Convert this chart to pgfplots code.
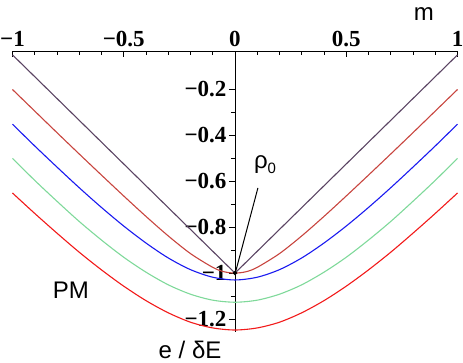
\documentclass[border=0pt]{standalone}
\usepackage{fontspec}
\setmainfont{Liberation Sans}
\newfontfamily\tickfont{Liberation Serif}
\usepackage{pgfplots}
\pgfplotsset{compat=1.18}
\definecolor{lineGrey}{HTML}{5B4463}
\definecolor{lineDRed}{HTML}{C8453F}
\definecolor{lineBlue}{HTML}{1A1AF0}
\definecolor{lineGreen}{HTML}{7FD99A}
\definecolor{lineRed}{HTML}{F21A1A}

\begin{document}
\begin{tikzpicture}
\begin{axis}[
  scale only axis, width=445pt, height=280.4pt,
  xmin=-1, xmax=1, ymin=-1.255, ymax=-0.033,
  axis x line*=top, axis y line*=center,
  axis line style={black,line width=0.9pt},
  xtick={-1,-0.5,0,0.5,1},
  xticklabels={−1,−0.5,0,0.5,1},
  ytick={-1.2,-1,-0.8,-0.6,-0.4,-0.2},
  yticklabels={−1.2,−1,−0.8,−0.6,−0.4,−0.2},
  minor x tick num=4, minor y tick num=1,
  xtick align=inside, ytick align=outside,
  major tick length=6pt, minor tick length=4pt,
  tick style={black,line width=0.7pt},
  ticklabel style={font=\tickfont\bfseries\fontsize{23}{25}\selectfont},
  xticklabel style={yshift=1pt},
  yticklabel style={xshift=1pt},
  clip=false,
  every axis plot/.append style={line width=1.1pt},
]
% grey V
\addplot[lineGrey] coordinates {(-1,-0.049) (0,-1) (1,-0.049)};
% dark red
\addplot[lineDRed,smooth] coordinates {
  (-1,-0.200) (-0.9,-0.294) (-0.8,-0.388) (-0.7,-0.481) (-0.6,-0.573)
  (-0.5,-0.664) (-0.4,-0.753) (-0.3,-0.838) (-0.2,-0.915) (-0.1,-0.975)
  (-0.05,-0.994) (0,-1.0) (0.05,-0.994) (0.1,-0.975) (0.2,-0.915)
  (0.3,-0.838) (0.4,-0.753) (0.5,-0.664) (0.6,-0.573) (0.7,-0.481)
  (0.8,-0.388) (0.9,-0.294) (1,-0.200)};
% blue
\addplot[lineBlue,smooth] coordinates {
  (-1,-0.351) (-0.9,-0.446) (-0.8,-0.538) (-0.7,-0.628) (-0.6,-0.714)
  (-0.5,-0.795) (-0.4,-0.869) (-0.3,-0.934) (-0.2,-0.985) (-0.1,-1.018)
  (0,-1.030) (0.1,-1.018) (0.2,-0.985) (0.3,-0.934) (0.4,-0.869)
  (0.5,-0.795) (0.6,-0.714) (0.7,-0.628) (0.8,-0.538) (0.9,-0.446) (1,-0.351)};
% green
\addplot[lineGreen,smooth] coordinates {
  (-1,-0.500) (-0.9,-0.596) (-0.8,-0.687) (-0.7,-0.775) (-0.6,-0.856)
  (-0.5,-0.931) (-0.4,-0.996) (-0.3,-1.051) (-0.2,-1.092) (-0.1,-1.118)
  (0,-1.127) (0.1,-1.118) (0.2,-1.092) (0.3,-1.051) (0.4,-0.996)
  (0.5,-0.931) (0.6,-0.856) (0.7,-0.775) (0.8,-0.687) (0.9,-0.596) (1,-0.500)};
% red
\addplot[lineRed,smooth] coordinates {
  (-1,-0.651) (-0.9,-0.740) (-0.8,-0.826) (-0.7,-0.909) (-0.6,-0.986)
  (-0.5,-1.057) (-0.4,-1.120) (-0.3,-1.173) (-0.2,-1.214) (-0.1,-1.239)
  (0,-1.248) (0.1,-1.239) (0.2,-1.214) (0.3,-1.173) (0.4,-1.120)
  (0.5,-1.057) (0.6,-0.986) (0.7,-0.909) (0.8,-0.826) (0.9,-0.740) (1,-0.651)};
% rho_0 pointer
\addplot[black,line width=1pt] coordinates {(0.103,-0.629) (0.004,-0.99)};
\addplot[black,only marks,mark=*,mark size=1.6pt] coordinates {(0,-1)};
\node[font=\fontsize{24}{26}\selectfont] at (axis cs:0.135,-0.529) {ρ\raisebox{-0.35ex}{\fontsize{15}{15}\selectfont 0}};
\node[font=\fontsize{24}{26}\selectfont] at (axis cs:-0.737,-1.073) {PM};
\node[font=\fontsize{24}{26}\selectfont] at (axis cs:-0.202,-1.336) {e / δE};
\node[font=\fontsize{24}{26}\selectfont] at (axis cs:0.849,0.129) {m};
\coordinate (bbA) at (axis cs:-1.056,0.190);
\coordinate (bbB) at (axis cs:1.0247,-1.391);
\end{axis}
\pgfresetboundingbox
\path[use as bounding box] (bbA) rectangle (bbB);
\end{tikzpicture}
\end{document}
